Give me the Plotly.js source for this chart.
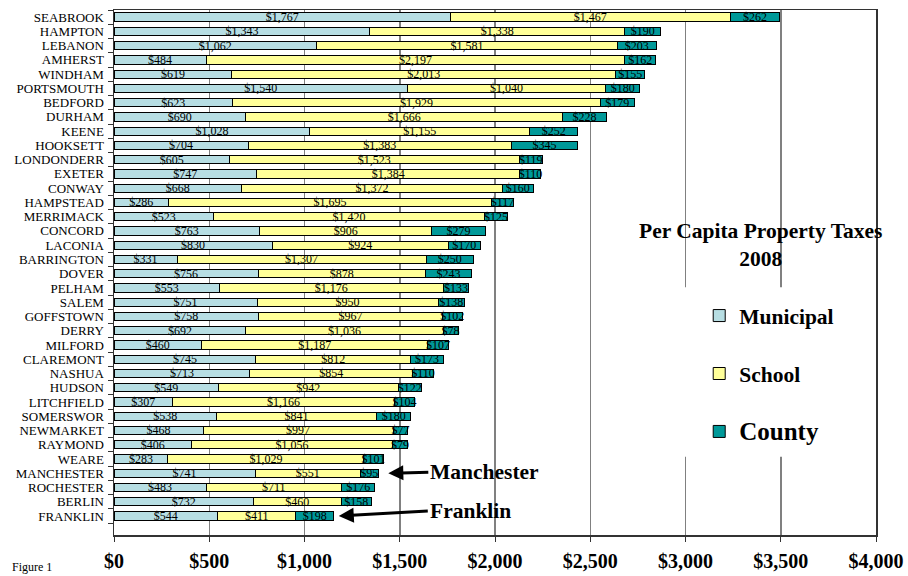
<!DOCTYPE html>
<html>
<head>
<meta charset="utf-8">
<script src="https://cdn.plot.ly/plotly-3.0.1.min.js"></script>
<style>html,body{margin:0;padding:0;background:#fff}#chart{width:908px;height:576px}</style>
</head>
<body>
<div id="chart"></div>
<script>
const towns = ["SEABROOK","HAMPTON","LEBANON","AMHERST","WINDHAM","PORTSMOUTH","BEDFORD","DURHAM","KEENE","HOOKSETT","LONDONDERR","EXETER","CONWAY","HAMPSTEAD","MERRIMACK","CONCORD","LACONIA","BARRINGTON","DOVER","PELHAM","SALEM","GOFFSTOWN","DERRY","MILFORD","CLAREMONT","NASHUA","HUDSON","LITCHFIELD","SOMERSWOR","NEWMARKET","RAYMOND","WEARE","MANCHESTER","ROCHESTER","BERLIN","FRANKLIN"];
const municipal = [1767,1343,1062,484,619,1540,623,690,1028,704,605,747,668,286,523,763,830,331,756,553,751,758,692,460,745,713,549,307,538,468,406,283,741,483,732,544];
const school = [1467,1338,1581,2197,2013,1040,1929,1666,1155,1383,1523,1384,1372,1695,1420,906,924,1307,878,1176,950,967,1036,1187,812,854,942,1166,841,997,1056,1029,551,711,460,411];
const county = [262,190,203,162,155,180,179,228,252,345,119,110,160,117,125,279,170,250,243,133,138,102,78,107,173,110,122,104,180,77,79,101,95,176,158,198];
const xTicks = [0,500,1000,1500,2000,2500,3000,3500,4000];
const xTickText = ["$0","$500","$1,000","$1,500","$2,000","$2,500","$3,000","$3,500","$4,000"];

const serif = "Liberation Serif";
function bar(name, vals, color, group) {
  return {
    type: 'bar', orientation: 'h', name: name, legendgroup: group,
    x: vals, y: towns,
    marker: {color: color, line: {color: '#000', width: 1}},
    texttemplate: '$%{x:,d}', textposition: 'inside', insidetextanchor: 'middle',
    constraintext: 'none', cliponaxis: false,
    textfont: {family: serif, size: 12, color: '#000'},
    insidetextfont: {family: serif, size: 12, color: '#000'},
    hoverinfo: 'x+y+name'
  };
}
const data = [
  bar('Municipal', municipal, '#B7DEE3', 'g1'),
  bar('School', school, '#FFFF99', 'g2'),
  bar('<span style="font-size:25px">County</span>', county, '#009999', 'g3')
];

const layout = {
  width: 908, height: 576,
  margin: {l: 114, r: 32, t: 10, b: 41, pad: 0},
  paper_bgcolor: '#fff', plot_bgcolor: '#fff',
  barmode: 'stack', bargap: 0.42,
  uniformtext: {mode: 'show', minsize: 12},
  font: {family: serif, color: '#000'},
  showlegend: true,
  legend: {
    x: 0.768, xanchor: 'left', y: 0.457, yanchor: 'top',
    bgcolor: 'rgba(0,0,0,0)', borderwidth: 0,
    traceorder: 'grouped', tracegroupgap: 27,
    font: {family: serif, size: 21.5, color: '#000', weight: 'bold'}
  },
  xaxis: {
    range: [0, 4000], tickmode: 'array', tickvals: xTicks, ticktext: xTickText,
    showgrid: true, gridcolor: '#808080', gridwidth: 1.5,
    showline: true, linecolor: '#333', linewidth: 1.5, mirror: true,
    ticks: 'outside', ticklen: 5, tickcolor: '#333',
    ticklabelstandoff: 2,
    tickfont: {family: serif, size: 20, color: '#000', weight: 'bold'},
    zeroline: false, fixedrange: true
  },
  yaxis: {
    type: 'category', categoryorder: 'array', categoryarray: towns,
    tickmode: 'array', tickvals: towns, ticktext: towns,
    autorange: 'reversed',
    showgrid: false, zeroline: false,
    showline: true, linecolor: '#333', linewidth: 1.5, mirror: true,
    ticks: 'outside', tickson: 'boundaries', ticklen: 5, tickcolor: '#333',
    ticklabelstandoff: 6,
    tickfont: {family: serif, size: 13, color: '#000'},
    fixedrange: true
  },
  shapes: [
    {type: 'rect', xref: 'paper', yref: 'paper', x0: 0.742, x1: 0.99, y0: 0.149, y1: 0.472,
     fillcolor: '#fff', line: {width: 0}, layer: 'above'}
  ],
  annotations: [
    {xref: 'paper', yref: 'paper', x: 0.848, y: 0.606, xanchor: 'center', yanchor: 'top',
     text: 'Per Capita Property Taxes<br>2008', showarrow: false, align: 'center',
     font: {family: serif, size: 21.5, color: '#000', weight: 'bold'}},
    {x: 1440, y: 'MANCHESTER', xref: 'x', yref: 'y', text: 'Manchester',
     showarrow: true, ax: 40, ay: -1, axref: 'pixel', ayref: 'pixel', xanchor: 'left', yanchor: 'middle',
     arrowhead: 2, arrowsize: 1, arrowwidth: 3, arrowcolor: '#000',
     font: {family: serif, size: 21.5, color: '#000', weight: 'bold'}},
    {x: 1180, y: 'FRANKLIN', xref: 'x', yref: 'y', text: 'Franklin',
     showarrow: true, ax: 89, ay: -5, axref: 'pixel', ayref: 'pixel', xanchor: 'left', yanchor: 'middle',
     arrowhead: 2, arrowsize: 1, arrowwidth: 3, arrowcolor: '#000',
     font: {family: serif, size: 21.5, color: '#000', weight: 'bold'}},
    {xref: 'paper', yref: 'paper', x: -0.137, y: -0.0781, xanchor: 'left', yanchor: 'bottom',
     text: 'Figure 1', showarrow: false,
     font: {family: serif, size: 12, color: '#000'}}
  ]
};

Plotly.newPlot('chart', data, layout, {displayModeBar: false, staticPlot: true});
</script>
</body>
</html>
